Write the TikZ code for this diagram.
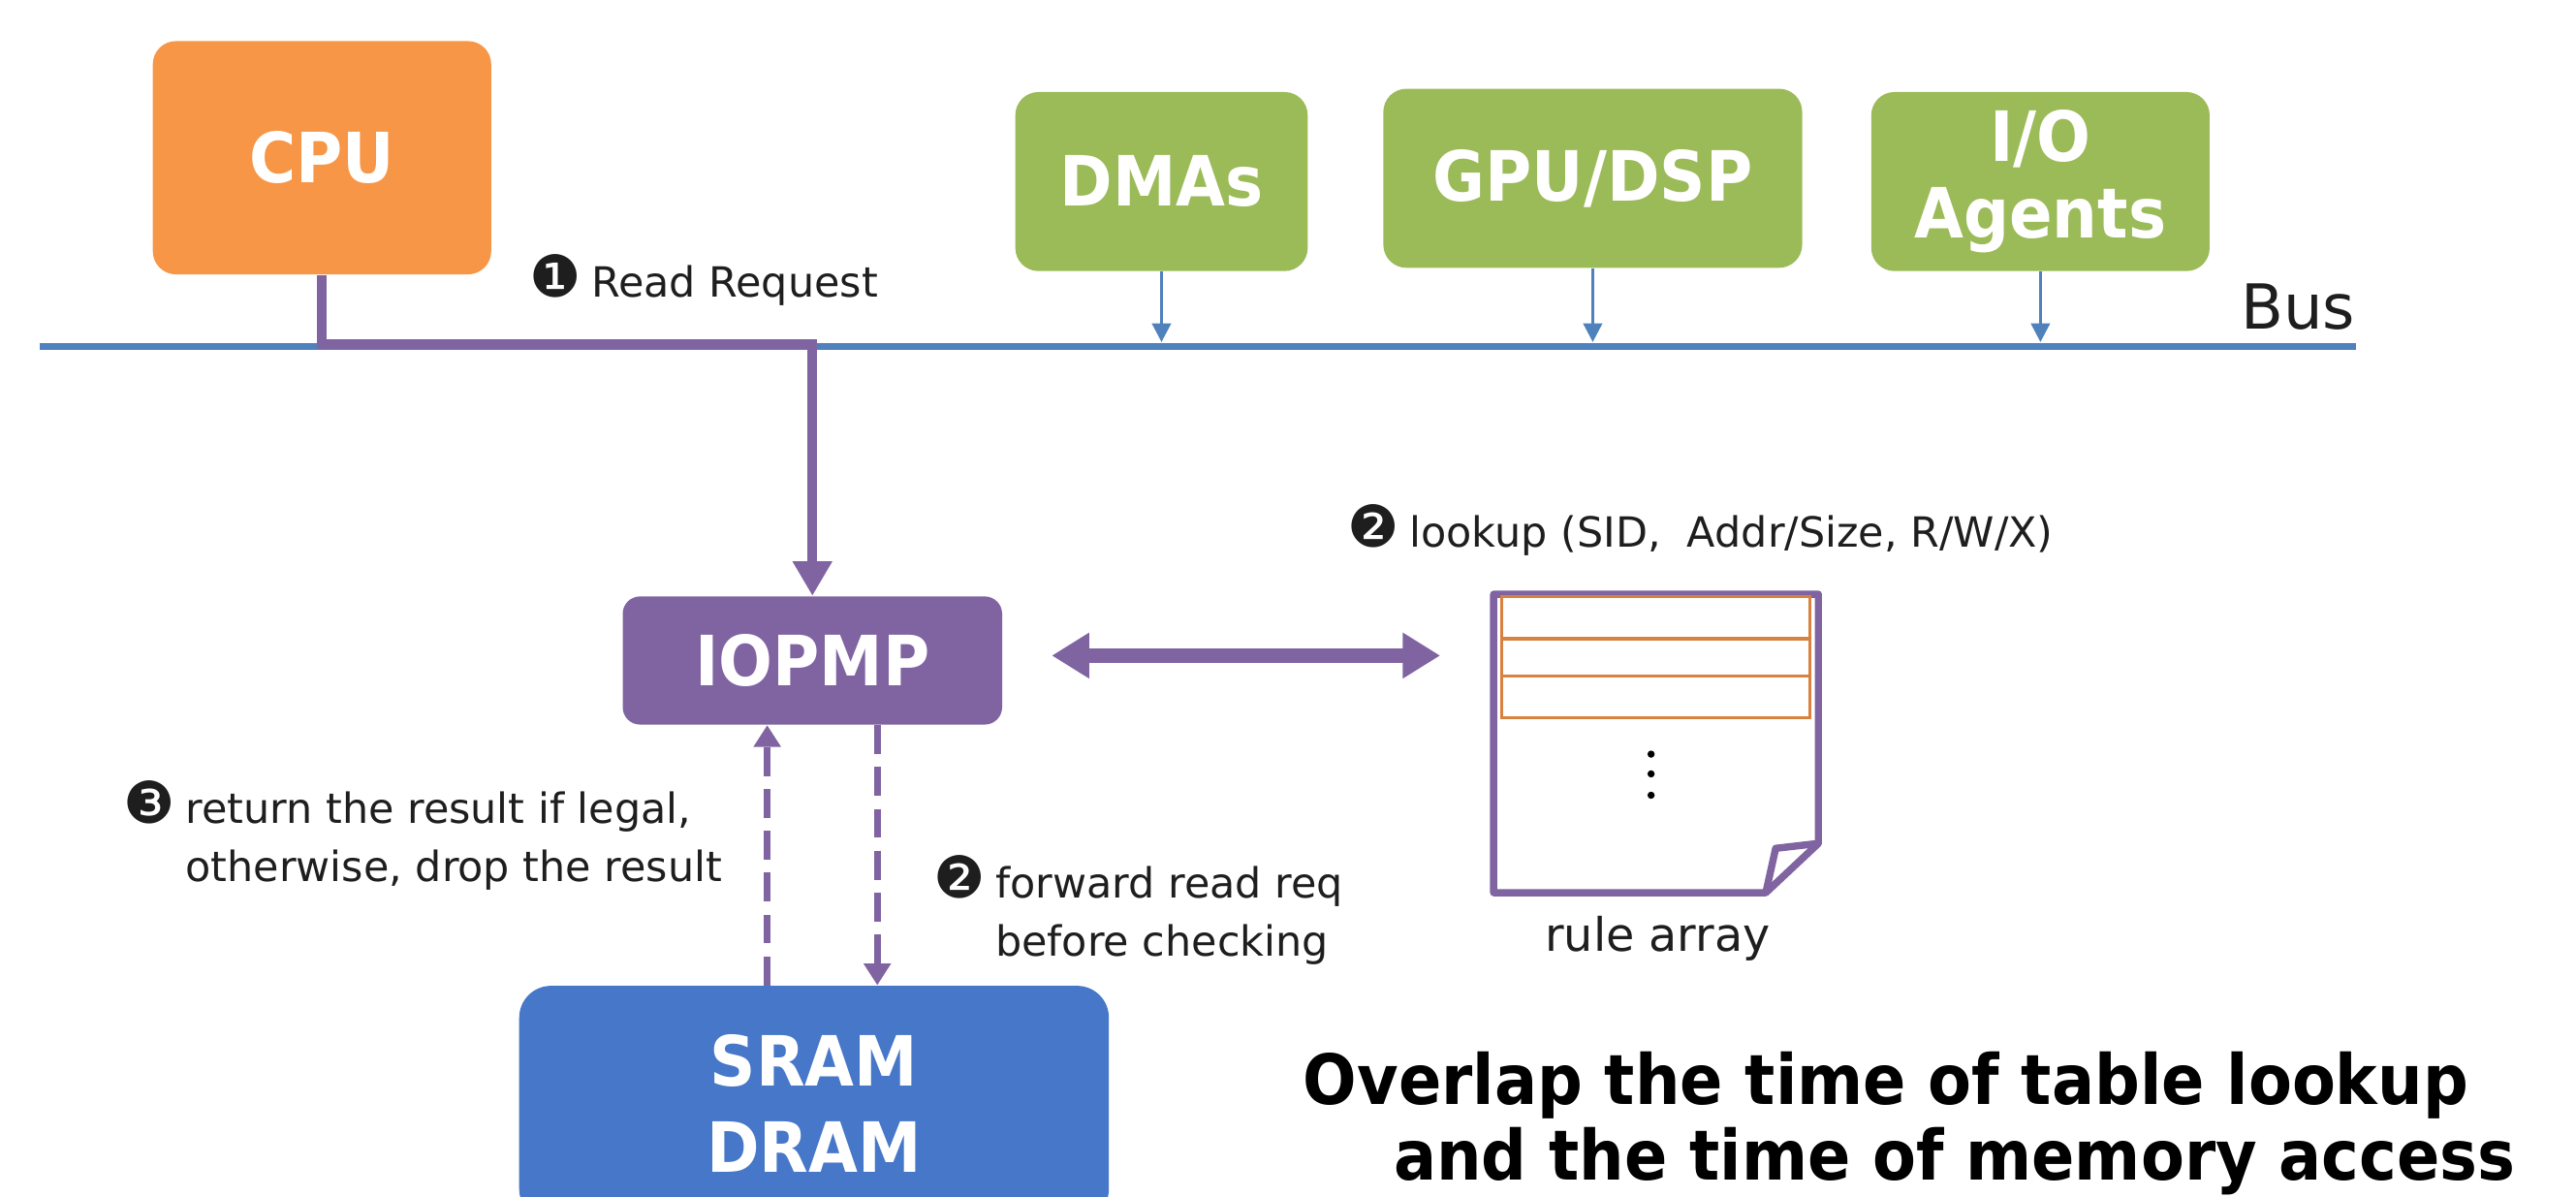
\documentclass[tikz,border=0pt]{standalone}
\usepackage{fontspec}
\setmainfont{DejaVu Sans}
\newfontfamily\headfont[FakeStretch=0.915]{DejaVu Sans}
\newfontfamily\unitfont[FakeStretch=0.92]{DejaVu Sans}
\usetikzlibrary{arrows.meta,calc}

\definecolor{cpuorange}{HTML}{F79646}
\definecolor{agentgreen}{HTML}{9BBB59}
\definecolor{pmppurple}{HTML}{8064A2}
\definecolor{memblue}{HTML}{4677C8}
\definecolor{busblue}{HTML}{4F81BD}
\definecolor{rowline}{HTML}{D9823F}
\definecolor{inktext}{HTML}{1E1E1E}

% numbered step badge followed by a small gap
\newcommand{\stepbadge}[1]{{\fontsize{20}{20}\selectfont #1}\hspace{3.5pt}}

\tikzset{
  unit/.style={rectangle, inner sep=0pt, text=white, align=center,
    font=\unitfont\fontsize{24}{26.6}\selectfont\bfseries},
  cpubox/.style={unit, fill=cpuorange, rounded corners=8pt},
  agentbox/.style={unit, fill=agentgreen, rounded corners=8pt},
  pmpbox/.style={unit, fill=pmppurple, rounded corners=6pt},
  membox/.style={unit, fill=memblue, rounded corners=11pt,
    font=\unitfont\fontsize{24}{30}\selectfont\bfseries},
  note/.style={inner sep=0pt, text=inktext, align=left,
    font=\fontsize{14.4}{20.2}\selectfont},
  headline/.style={inner sep=0pt, text=black,
    font=\headfont\fontsize{24}{27}\selectfont\bfseries},
  busline/.style={draw=busblue, line width=2.3pt},
  agentarrow/.style={draw=busblue, line width=1.1pt,
    -{Triangle[width=6.5pt,length=6.5pt]}},
  reqline/.style={draw=pmppurple, line width=3.4pt,
    -{Triangle[width=13pt,length=12pt]}},
  lookupline/.style={draw=pmppurple, line width=5pt,
    {Triangle[width=15pt,length=13pt]}-{Triangle[width=15pt,length=13pt]}},
  dataline/.style={draw=pmppurple, line width=2.2pt,
    dash pattern=on 10pt off 4.5pt, -{Triangle[width=9pt,length=7.5pt]}},
  pageline/.style={draw=pmppurple, line width=2.5pt, line join=round},
  rowrule/.style={draw=rowline, line width=1.1pt},
}

\begin{document}
\begin{tikzpicture}[x=0.02cm, y=-0.02cm]
\useasboundingbox (0,0) rectangle (1568,728);

% system bus
\coordinate (busL) at (24,211);
\coordinate (busR) at (1434,211);
\draw[busline] (busL) -- (busR);
\node[note, anchor=base east, font=\fontsize{21.5}{24}\selectfont] (buslbl) at (1434,200) {Bus};

% bus masters
\node[cpubox, minimum width=4.12cm, minimum height=2.84cm] (cpu) at (196,96) {CPU};
\node[agentbox, minimum width=3.56cm, minimum height=2.18cm] (dma) at (707,110.5) {DMAs};
\node[agentbox, minimum width=5.10cm, minimum height=2.18cm] (gpu) at (969.5,108.5) {GPU/DSP};
\node[agentbox, minimum width=4.12cm, minimum height=2.18cm] (io) at (1242,110.5) {I/O\\Agents};

% checker, memory and rule table
\node[pmpbox, minimum width=4.62cm, minimum height=1.56cm] (iopmp) at (494.5,402) {IOPMP};
\node[membox, minimum width=7.18cm, minimum height=2.86cm] (mem) at (495.5,671.5) {SRAM\\DRAM};
\node[inner sep=0pt, minimum width=3.94cm, minimum height=3.62cm] (rules) at (1008,452.5) {};

% agents attach to the bus
\foreach \a in {dma,gpu,io}
  \draw[agentarrow, shorten >=1.6pt] (\a.south) -- (\a.south |- busL);

% read request from the CPU over the bus to the IOPMP
\coordinate (tap) at (196,209.5);
\draw[reqline] (cpu.south) |- (iopmp.north |- tap) -- (iopmp.north);

% table lookup
\coordinate (lookupy) at (760,399);
\draw[lookupline, shorten <=17pt, shorten >=18.5pt] (iopmp.east |- lookupy) -- (rules.west |- lookupy);

% memory traffic
\coordinate (retx) at (467,520);
\coordinate (fwdx) at (534,520);
\draw[dataline] (retx |- mem.north) -- (retx |- iopmp.south);
\draw[dataline] (fwdx |- iopmp.south) -- (fwdx |- mem.north);

% rule array page with folded corner
\draw[pageline] (rules.north west) -- (rules.north east)
  -- ($(rules.south east)+(0,-30)$) -- ($(rules.south east)+(-32,0)$)
  -- (rules.south west) -- cycle;
\draw[pageline] ($(rules.south east)+(0,-30)$) -- ($(rules.south east)+(-26,-27)$)
  -- ($(rules.south east)+(-32,0)$);
\draw[rowrule] ($(rules.north west)+(5,1.5)$) rectangle ($(rules.north east)+(-5,75)$);
\draw[rowrule] ($(rules.north west)+(5,27)$) -- ($(rules.north east)+(-5,27)$);
\draw[rowrule] ($(rules.north west)+(5,50)$) -- ($(rules.north east)+(-5,50)$);
\foreach \d in {6.5,18.5,31.5}
  \fill[black] ($(rules.center)+(-3,\d)$) circle (1.25pt);

% step annotations
\node[note, anchor=base west] (step1) at (322,181) {\stepbadge{❶}Read Request};
\node[note, anchor=base west] (step2a) at (820,333) {\stepbadge{❷}lookup (SID,\ \ Addr/Size, R/W/X)};
\node[note, anchor=north west] (step3) at (75,469.3)
  {\rule{0pt}{18pt}\stepbadge{❸}return the result if legal,\\\hphantom{\stepbadge{❸}}otherwise, drop the result};
\node[note, anchor=north west] (step2b) at (568,514.3)
  {\rule{0pt}{18pt}\stepbadge{❷}forward read req\\\hphantom{\stepbadge{❷}}before checking};
\node[note, anchor=base, font=\fontsize{16}{18}\selectfont] (rulelbl) at (1009,579) {rule array};

% conclusion
\node[headline, anchor=base west] (take1) at (793,672) {Overlap the time of table lookup};
\node[headline, anchor=base west] (take2) at (848,718) {and the time of memory access};
\end{tikzpicture}
\end{document}
